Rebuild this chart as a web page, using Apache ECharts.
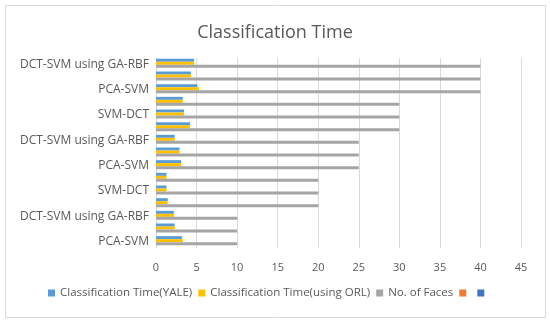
<!DOCTYPE html>
<html><head><meta charset="utf-8">
<script src="https://cdn.jsdelivr.net/npm/echarts@6/dist/echarts.min.js"></script>
<style>html,body{margin:0;padding:0;background:#fff}#c{width:550px;height:323px}</style>
</head><body><div id="c"></div>
<script>
const categories = ["PCA-SVM","SVM-DCT","DCT-SVM using GA-RBF","PCA-SVM","SVM-DCT","DCT-SVM using GA-RBF","PCA-SVM","SVM-DCT","DCT-SVM using GA-RBF","PCA-SVM","SVM-DCT","DCT-SVM using GA-RBF","PCA-SVM","SVM-DCT","DCT-SVM using GA-RBF"];
const yale = [3.2,2.3,2.2,1.45,1.3,1.3,3.1,2.9,2.3,4.2,3.45,3.3,5.1,4.3,4.7];
const orl  = [3.3,2.3,2.2,1.45,1.3,1.3,3.1,2.9,2.3,4.2,3.45,3.3,5.3,4.3,4.7];
const faces = [10,10,10,20,20,20,25,25,25,30,30,30,40,40,40];
const xTicks = {min:0, max:45, interval:5};
const font = "'Open Sans', 'Noto Sans', sans-serif";
const chart = echarts.init(document.getElementById('c'), null, {renderer:'canvas'});
chart.setOption({
  animation:false,
  graphic:[{type:'rect', shape:{x:5.5,y:5.5,width:540,height:312}, style:{fill:'none', stroke:'#d9d9d9', lineWidth:1}}],
  title:{text:'Classification Time', left:'center', top:19, textStyle:{fontFamily:font, fontSize:18, fontWeight:'normal', color:'#595959'}},
  legend:{bottom:19, left:43, itemWidth:7, itemHeight:7, itemGap:6, icon:'rect',
    textStyle:{fontFamily:font, fontSize:11.5, color:'#595959'},
    data:['Classification Time(YALE)','Classification Time(using ORL)','No. of Faces','\u200b','\u200b\u200b']},
  grid:{left:156, right:29, top:58, bottom:75},
  xAxis:{type:'value', min:xTicks.min, max:xTicks.max, interval:xTicks.interval,
    axisLine:{show:false}, axisTick:{show:false},
    axisLabel:{fontFamily:font, fontSize:11, color:'#595959', margin:14},
    splitLine:{lineStyle:{color:'#d9d9d9'}}},
  yAxis:{type:'category', data:categories,
    axisLine:{lineStyle:{color:'#d9d9d9'}}, axisTick:{show:false},
    axisLabel:{interval:1, fontFamily:font, fontSize:12, color:'#595959', margin:7}},
  series:[
    {name:'Classification Time(YALE)', type:'bar', data:yale, barWidth:3, barGap:'0%', itemStyle:{color:'#5B9BD5'}},
    {name:'Classification Time(using ORL)', type:'bar', data:orl, barWidth:3, barGap:'0%', itemStyle:{color:'#FFC000'}},
    {name:'No. of Faces', type:'bar', data:faces, barWidth:3, barGap:'0%', itemStyle:{color:'#A5A5A5'}},
    {name:'\u200b', type:'bar', data:[], itemStyle:{color:'#ED7D31'}},
    {name:'\u200b\u200b', type:'bar', data:[], itemStyle:{color:'#4472C4'}}
  ]
});
</script></body></html>
